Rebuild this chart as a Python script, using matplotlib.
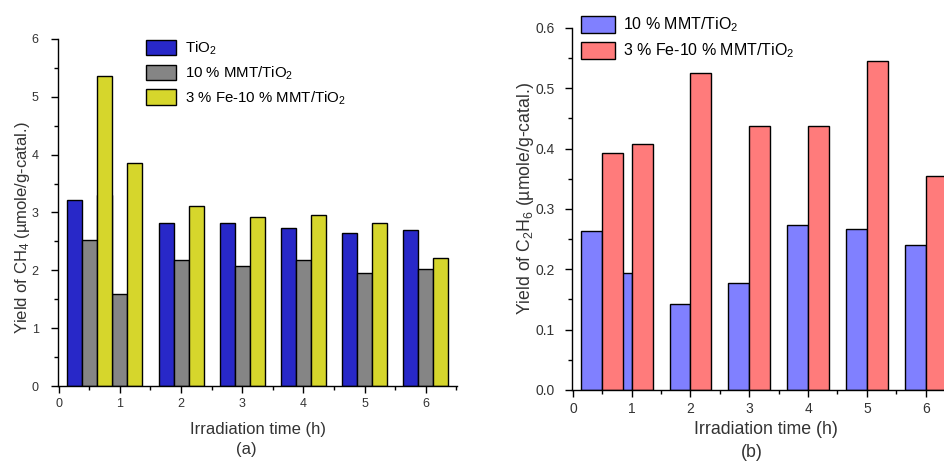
"""
Photocatalytic CO2 reduction - yield of CH4 and C2H6 over time
Two bar charts side by side: (a) CH4, (b) C2H6.
"""

import numpy as np
import matplotlib.pyplot as plt
from matplotlib.ticker import MultipleLocator

plt.rcParams['font.family'] = ['Liberation Sans', 'DejaVu Sans']
plt.rcParams['mathtext.fontset'] = 'custom'
plt.rcParams['mathtext.rm'] = 'Liberation Sans'
plt.rcParams['mathtext.it'] = 'Liberation Sans:italic'


# Data
hours = np.array([0.5, 1, 2, 3, 4, 5, 6])

ch4_tio2 = [3.21, 3.30, 2.82, 2.82, 2.73, 2.64, 2.70]
ch4_mmt = [2.53, 1.59, 2.17, 2.08, 2.17, 1.96, 2.02]
ch4_fe_mmt = [5.36, 3.85, 3.12, 2.92, 2.95, 2.82, 2.22]

c2h6_mmt = [0.264, 0.194, 0.143, 0.178, 0.273, 0.267, 0.240]
c2h6_fe_mmt = [0.393, 0.407, 0.525, 0.438, 0.438, 0.545, 0.355]

labels_a = [r"TiO$_2$", r"10 % MMT/TiO$_2$", r"3 % Fe-10 % MMT/TiO$_2$"]
labels_b = [r"10 % MMT/TiO$_2$", r"3 % Fe-10 % MMT/TiO$_2$"]


fig = plt.figure(figsize=(9.45, 4.63), dpi=100)


def style_axes(ax, ypad, size):
    ax.spines['top'].set_visible(False)
    ax.spines['right'].set_visible(False)
    for s in ('left', 'bottom'):
        ax.spines[s].set_linewidth(1.0)
    ax.tick_params(which='major', direction='out', length=5, width=1,
                   labelsize=size, labelcolor='#333333')
    ax.tick_params(which='minor', direction='out', length=3, width=1)
    ax.tick_params(axis='y', pad=ypad)
    ax.xaxis.set_major_locator(MultipleLocator(1))
    ax.xaxis.set_minor_locator(MultipleLocator(0.5))


# (a) CH4
ax1 = fig.add_axes([0.0614, 0.1663, 0.4222, 0.7495])
w = 0.245
ax1.bar(hours - w, ch4_tio2, w, color='#2828C8', edgecolor='black', linewidth=1, label=labels_a[0])
ax1.bar(hours, ch4_mmt, w, color='#858585', edgecolor='black', linewidth=1, label=labels_a[1])
ax1.bar(hours + w, ch4_fe_mmt, w, color='#D6D62C', edgecolor='black', linewidth=1, label=labels_a[2])

ax1.set_xlim(-0.01, 6.51)
ax1.set_ylim(0, 6)
style_axes(ax1, 9, 9)
ax1.yaxis.set_major_locator(MultipleLocator(1))
ax1.yaxis.set_minor_locator(MultipleLocator(0.5))
ax1.set_xlabel("Irradiation time (h)", fontsize=12, color='#333333', labelpad=9)
ax1.set_ylabel(r"Yield of CH$_4$ (µmole/g-catal.)", fontsize=12, color='#333333')
ax1.yaxis.set_label_coords(-0.066, 0.455)
fig.legend(*ax1.get_legend_handles_labels(), loc='upper left',
           bbox_to_anchor=(0.1545, 0.915), frameon=False, fontsize=10.8,
           handlelength=2.0, handleheight=1.2, labelspacing=0.5,
           handletextpad=0.6, borderpad=0, borderaxespad=0)
fig.text(0.261, 0.030, "(a)", ha='center', va='center', fontsize=12, color='#333333')


# (b) C2H6
ax2 = fig.add_axes([0.605, 0.1577, 0.41, 0.782])
w2 = 0.355
ax2.bar(hours, c2h6_mmt, -w2, align='edge', color='#8080FF', edgecolor='black', linewidth=1, label=labels_b[0])
ax2.bar(hours, c2h6_fe_mmt, w2, align='edge', color='#FF7B7B', edgecolor='black', linewidth=1, label=labels_b[1])

ax2.set_xlim(-0.02, 6.57)
ax2.set_ylim(0, 0.6)
style_axes(ax2, 7, 10)
ax2.yaxis.set_major_locator(MultipleLocator(0.1))
ax2.yaxis.set_minor_locator(MultipleLocator(0.05))
ax2.yaxis.set_major_formatter(plt.FormatStrFormatter('%.1f'))
ax2.set_xlabel("Irradiation time (h)", fontsize=12.8, color='#333333', labelpad=4)
ax2.set_ylabel(r"Yield of C$_2$H$_6$ (µmole/g-catal.)", fontsize=12.7, color='#333333')
ax2.yaxis.set_label_coords(-0.092, 0.53)
fig.legend(*ax2.get_legend_handles_labels(), loc='upper left',
           bbox_to_anchor=(0.6148, 0.966), frameon=False, fontsize=11.5,
           handlelength=2.1, handleheight=1.25, labelspacing=0.45,
           handletextpad=0.5, borderpad=0, borderaxespad=0)
fig.text(0.796, 0.022, "(b)", ha='center', va='center', fontsize=12.8, color='#333333')

plt.savefig("out.png", dpi=100)
